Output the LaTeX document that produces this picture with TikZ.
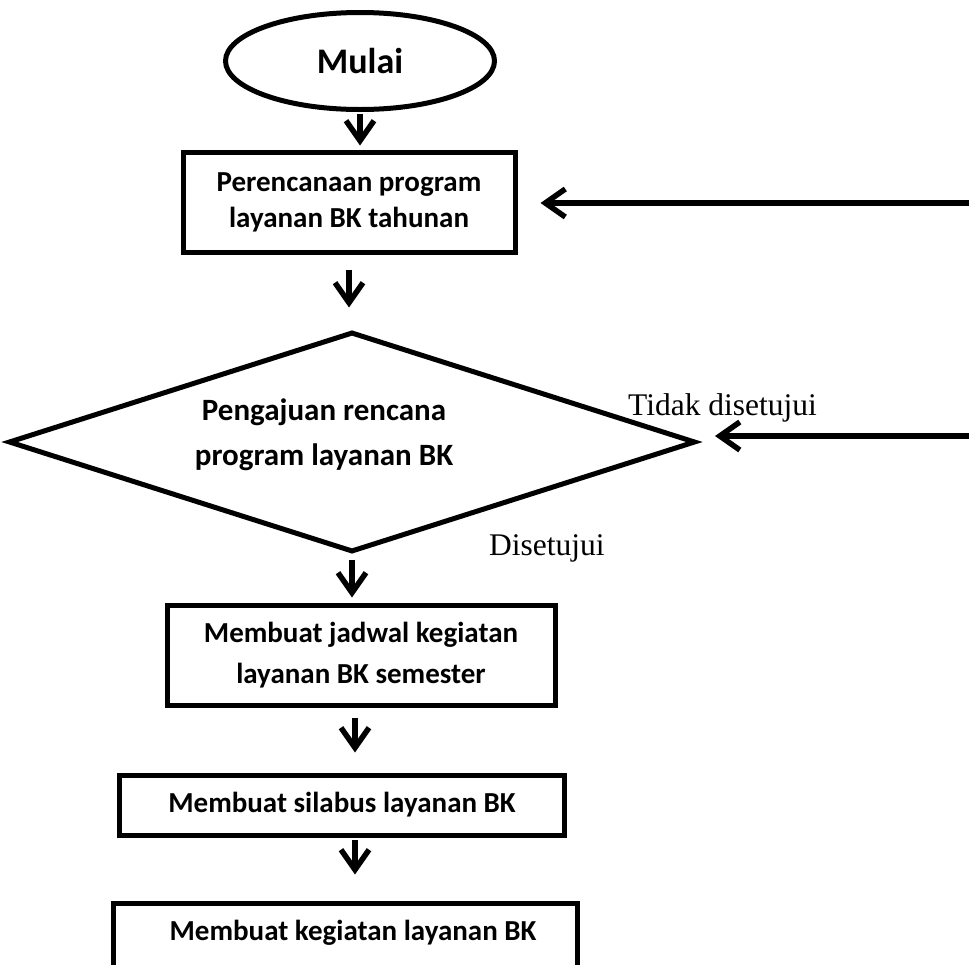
\documentclass[tikz,border=0pt]{standalone}
\usepackage{fontspec}
\setmainfont{Liberation Serif}
\newfontfamily\carlito{Carlito}
\usetikzlibrary{shapes.geometric,arrows.meta}

\begin{document}
\begin{tikzpicture}[x=1pt,y=-1pt,
  outline/.style={draw=black, line width=5pt},
  boxfont/.style={font=\carlito\bfseries\fontsize{29}{36}\selectfont},
  stepbox/.style={outline, rectangle, inner sep=0pt, align=center, boxfont},
  flow/.style={line width=5.5pt, -{Straight Barb[length=20pt,width=28pt]}},
  lbl/.style={font=\fontsize{31.5}{36}\selectfont, inner sep=0pt, anchor=base west}
]
\useasboundingbox (0,0) rectangle (969,964);

% terminator
\node[outline, ellipse, minimum width=269pt, minimum height=97pt, inner sep=0pt,
      font=\carlito\bfseries\fontsize{36}{40}\selectfont] (start) at (360,61) {Mulai};

% process steps
\node[stepbox, minimum width=332pt, minimum height=100pt] (plan) at (349,202)
  {Perencanaan program\\layanan BK tahunan};

% decision
\node[outline, diamond, minimum width=687pt, minimum height=220pt, inner sep=0pt] (dec) at (352,442) {};
\node[align=center, inner sep=0pt, font=\carlito\bfseries\fontsize{31}{45}\selectfont] (dectext) at (324,435)
  {Pengajuan rencana\\program layanan BK};

\node[stepbox, minimum width=388pt, minimum height=100pt,
      font=\carlito\bfseries\fontsize{29}{41}\selectfont] (jadwal) at (361,655)
  {Membuat jadwal kegiatan\\layanan BK semester};

\node[stepbox, minimum width=445pt, minimum height=60pt] (silabus) at (342,805)
  {Membuat silabus layanan BK};

\node[outline, rectangle, inner sep=0pt, minimum width=464pt, minimum height=110pt] (kegiatan) at (345,958) {};
\node[boxfont, inner sep=0pt] (kegtext) at (353,933) {Membuat kegiatan layanan BK};

% connectors
\coordinate (ax) at (355,0);
\draw[flow, shorten <=2pt, shorten >=4pt] (start.south) -- (start.south |- plan.north);
\draw[flow, shorten <=15pt, shorten >=22pt] (plan.south) -- (plan.south |- dec.north);
\draw[flow, shorten <=5pt, shorten >=5pt] (dec.south) -- (dec.south |- jadwal.north);
\draw[flow, shorten <=10pt, shorten >=20pt] (ax |- jadwal.south) -- (ax |- silabus.north);
\draw[flow, shorten <=2pt, shorten >=26pt] (ax |- silabus.south) -- (ax |- kegiatan.north);

% feedback from the right margin
\coordinate (r1) at (975,203);
\coordinate (r2) at (975,436);
\draw[flow, shorten >=23pt] (r1) -- (plan.east |- r1);
\draw[flow, shorten >=17pt] (r2) -- (dec.east |- r2);

% branch labels
\node[lbl] (no) at (628,415) {Tidak disetujui};
\node[lbl] (yes) at (489,555) {Disetujui};
\end{tikzpicture}
\end{document}
